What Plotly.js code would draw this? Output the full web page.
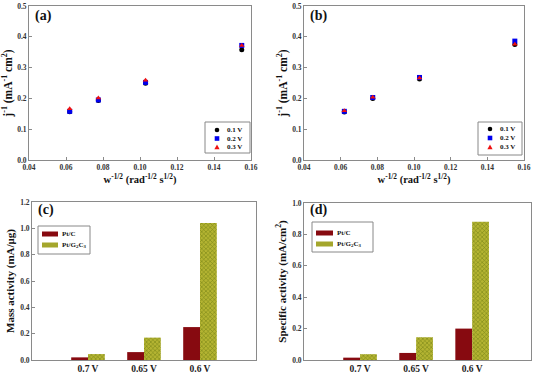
<!DOCTYPE html>
<html><head><meta charset="utf-8">
<script src="https://cdn.plot.ly/plotly-3.0.1.min.js"></script>
<style>html,body{margin:0;padding:0;background:#fff}#chart{width:534px;height:374px}</style>
</head><body><div id="chart"></div>
<script>
// Koutecky-Levich data
const kX = [0.062, 0.0775, 0.103, 0.155];
const seriesNames = ['0.1 V', '0.2 V', '0.3 V'];
const aV01 = [0.157, 0.193, 0.249, 0.358];
const aV02 = [0.158, 0.195, 0.252, 0.372];
const aV03 = [0.166, 0.201, 0.259, 0.372];
const bV01 = [0.156, 0.200, 0.263, 0.375];
const bV02 = [0.158, 0.203, 0.268, 0.386];
const bV03 = [0.160, 0.204, 0.266, 0.376];
// Activity data
const potentials = ['0.7 V', '0.65 V', '0.6 V'];
const barNames = ['Pt/C', 'Pt/G<sub>2</sub>C<sub>3</sub>'];
const massPtC = [0.02, 0.06, 0.25];
const massPtG = [0.045, 0.17, 1.04];
const specPtC = [0.015, 0.045, 0.20];
const specPtG = [0.037, 0.145, 0.88];

const W = 534, H = 374;
const px = x => x / W, py = y => 1 - y / H;
const FONT = 'Liberation Serif, Times New Roman, serif';
const mk = [
  {symbol:'circle', color:'#000000'},
  {symbol:'square', color:'#0000ee'},
  {symbol:'triangle-up', color:'#ee1111'}
];
function scat(x, ys, xa, ya) {
  return ys.map((y, i) => ({
    type:'scatter', mode:'markers', x:x, y:y, name:seriesNames[i],
    xaxis:xa, yaxis:ya, showlegend:false,
    marker:{symbol:mk[i].symbol, color:mk[i].color, size:5}
  }));
}
const red = '#870a10';
const olive = {color:'#a9ab2c', line:{width:0}, pattern:{shape:'x', size:3, solidity:0.3, fgcolor:'#6f7d14', bgcolor:'#b4b432'}};
function bars(a, b, xa, ya) {
  return [
    {type:'bar', x:potentials, y:a, name:barNames[0], xaxis:xa, yaxis:ya, showlegend:false,
     marker:{color:red, line:{width:0}}},
    {type:'bar', x:potentials, y:b, name:barNames[1], xaxis:xa, yaxis:ya, showlegend:false,
     marker:olive}
  ];
}
const data = [].concat(
  scat(kX, [aV01, aV02, aV03], 'x', 'y'),
  scat(kX, [bV01, bV02, bV03], 'x2', 'y2'),
  bars(massPtC, massPtG, 'x3', 'y3'),
  bars(specPtC, specPtG, 'x4', 'y4')
);
const tickF = {family:FONT, size:7.5, color:'#333', weight:'bold'};
const catF = {family:FONT, size:9.5, color:'#222', weight:'bold'};
const xTitleF = {family:FONT, size:10.5, color:'#111', weight:'bold'};
const yTitleF = {family:FONT, size:11.5, color:'#111', weight:'bold'};
const yTitleF2 = {family:FONT, size:11, color:'#111', weight:'bold'};
function ax(domain, extra) {
  return Object.assign({
    domain:domain, showline:true, mirror:true, linecolor:'#8a8a8a', linewidth:1,
    showgrid:false, zeroline:false, ticks:'inside', ticklen:3, tickcolor:'#8a8a8a',
    tickfont:tickF
  }, extra);
}
const xTitle = {text:'w<sup>-1/2</sup> (rad<sup>-1/2</sup> s<sup>1/2</sup>)', font:xTitleF, standoff:4};
const yTitle = {text:'j<sup>-1</sup> (mA<sup>-1</sup> cm<sup>2</sup>)', font:yTitleF, standoff:2};

// custom compact legends (shapes + annotations)
const shapes = [], annotations = [];
const legF = {family:FONT, size:7, color:'#111', weight:'bold'};
function box(x0, y0, x1, y1) {
  shapes.push({type:'rect', xref:'paper', yref:'paper', x0:px(x0), x1:px(x1), y0:py(y1), y1:py(y0),
    line:{color:'#888', width:1}, fillcolor:'#fff', layer:'above'});
}
function label(t, x, y) {
  annotations.push({text:t, x:px(x), y:py(y), xref:'paper', yref:'paper', xanchor:'left', yanchor:'middle',
    showarrow:false, font:legF});
}
function markerLegend(bx0, by0, bx1, by1, mx, tx, ys) {
  box(bx0, by0, bx1, by1);
  const r = 2.3;
  ys.forEach((y, i) => {
    if (i === 0) shapes.push({type:'circle', xref:'paper', yref:'paper', x0:px(mx - r), x1:px(mx + r), y0:py(y + r), y1:py(y - r), fillcolor:mk[0].color, line:{width:0}, layer:'above'});
    if (i === 1) shapes.push({type:'rect', xref:'paper', yref:'paper', x0:px(mx - r), x1:px(mx + r), y0:py(y + r), y1:py(y - r), fillcolor:mk[1].color, line:{width:0}, layer:'above'});
    if (i === 2) shapes.push({type:'path', xref:'paper', yref:'paper', layer:'above', fillcolor:mk[2].color, line:{width:0},
      path:`M ${px(mx - r - 0.3)} ${py(y + r)} L ${px(mx + r + 0.3)} ${py(y + r)} L ${px(mx)} ${py(y - r - 0.3)} Z`});
    label(seriesNames[i], tx, y);
  });
}
function barLegend(bx0, by0, bx1, by1, sx0, sx1, tx, ys) {
  box(bx0, by0, bx1, by1);
  ys.forEach((y, i) => {
    const s = {type:'rect', xref:'paper', yref:'paper', x0:px(sx0), x1:px(sx1), y0:py(y + 2.5), y1:py(y - 2.5), line:{width:0}, layer:'above'};
    s.fillcolor = i === 0 ? red : '#a4a62c';
    shapes.push(s);
    label(barNames[i], tx, y);
  });
}
markerLegend(205, 122, 250, 153, 217, 225, [130, 138.5, 147]);
markerLegend(478, 122, 522, 155, 490, 498, [129, 138, 147]);
barLegend(38, 226, 90, 254, 42, 58, 60, [234, 245]);
barLegend(312, 222, 373, 252, 316, 333, 335, [233, 244]);

const panelF = {family:FONT, size:14, color:'#111', weight:'bold'};
[['(a)', 33, 16], ['(b)', 308, 16], ['(c)', 36, 210], ['(d)', 308, 210]].forEach(p => {
  annotations.push({text:p[0], x:px(p[1]), y:py(p[2]), xref:'paper', yref:'paper', xanchor:'left', yanchor:'middle', showarrow:false, font:panelF});
});

const layout = {
  width:W, height:H, margin:{l:0, r:0, t:0, b:0},
  paper_bgcolor:'#fff', plot_bgcolor:'#fff', showlegend:false,
  bargap:0.4, bargroupgap:0, barmode:'group',
  xaxis: ax([px(29), px(251)], {anchor:'y', range:[0.04, 0.16], dtick:0.02, tickformat:'.2f', title:xTitle}),
  yaxis: ax([py(160), py(6)], {anchor:'x', range:[0, 0.5], dtick:0.1, tickformat:'.1f', title:yTitle}),
  xaxis2: ax([px(304), px(524)], {anchor:'y2', range:[0.04, 0.16], dtick:0.02, tickformat:'.2f', title:xTitle}),
  yaxis2: ax([py(160), py(6)], {anchor:'x2', range:[0, 0.5], dtick:0.1, tickformat:'.1f', title:yTitle}),
  xaxis3: ax([px(32), px(256)], {anchor:'y3', range:[-1, 3], ticks:'', tickfont:catF}),
  yaxis3: ax([py(360), py(202)], {anchor:'x3', range:[0, 1.2], dtick:0.2, tickformat:'.1f',
    title:{text:'Mass activity (mA/μg)', font:yTitleF2, standoff:3}}),
  xaxis4: ax([px(304), px(531)], {anchor:'y4', range:[-1, 3.05], ticks:'', tickfont:catF}),
  yaxis4: ax([py(360), py(203)], {anchor:'x4', range:[0, 1.0], dtick:0.2, tickformat:'.1f',
    title:{text:'Specific activity (mA/cm<sup>2</sup>)', font:yTitleF2, standoff:3}}),
  shapes: shapes,
  annotations: annotations
};
Plotly.newPlot('chart', data, layout, {displayModeBar:false, staticPlot:true});
</script></body></html>
